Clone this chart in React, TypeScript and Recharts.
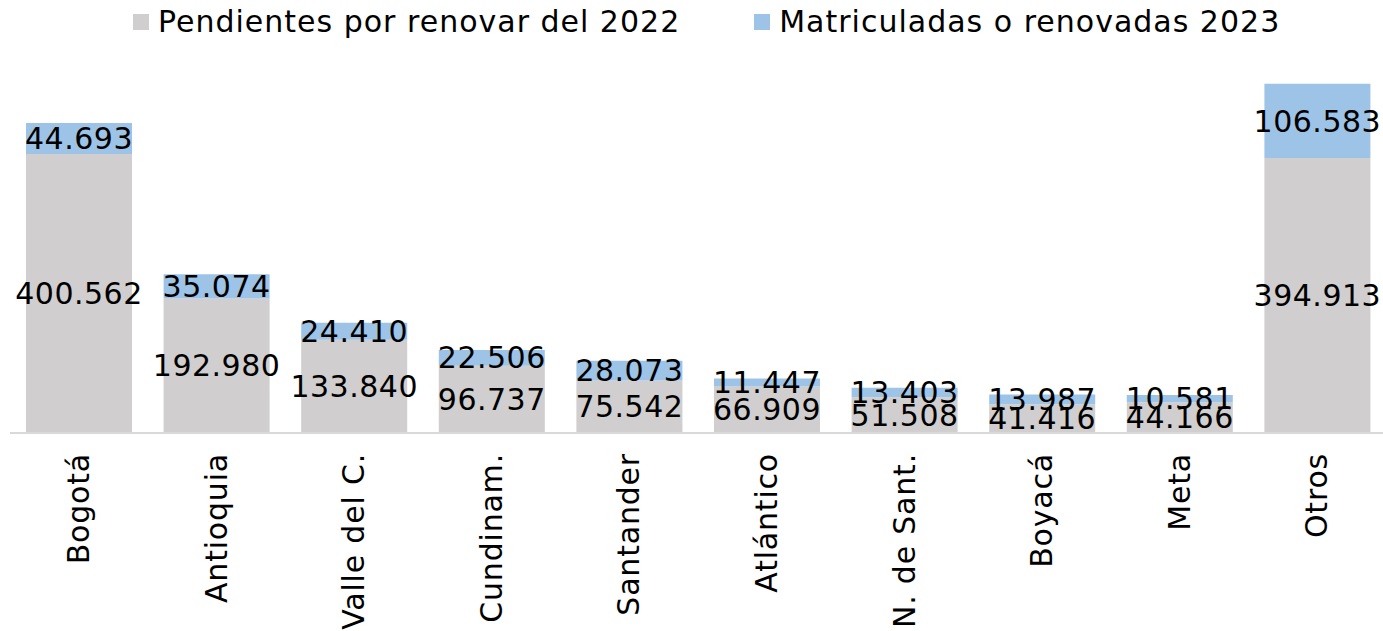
import { BarChart, Bar, XAxis, YAxis, LabelList } from "recharts";

const categories = [
  "Bogotá",
  "Antioquia",
  "Valle del C.",
  "Cundinam.",
  "Santander",
  "Atlántico",
  "N. de Sant.",
  "Boyacá",
  "Meta",
  "Otros",
];
const pendientes = [400562, 192980, 133840, 96737, 75542, 66909, 51508, 41416, 44166, 394913];
const renovadas = [44693, 35074, 24410, 22506, 28073, 11447, 13403, 13987, 10581, 106583];

const GREY = "#d0cece";
const BLUE = "#9dc3e6";
const FONT = "DejaVu Sans";

const data = categories.map((name, i) => ({
  name,
  pendientes: pendientes[i],
  renovadas: renovadas[i],
}));

const fmt = (v: number) => v.toLocaleString("de-DE");

const legendItems = [
  { label: "Pendientes por renovar del 2022", color: GREY },
  { label: "Matriculadas o renovadas 2023", color: BLUE },
];

function LegendBox() {
  return (
    <div
      style={{
        position: "absolute",
        top: 4,
        left: 133,
        display: "flex",
        gap: 74,
        fontFamily: FONT,
        fontSize: 30,
        letterSpacing: 1,
        color: "#000",
        whiteSpace: "nowrap",
      }}
    >
      {legendItems.map((it) => (
        <div key={it.label} style={{ display: "flex", alignItems: "center" }}>
          <span style={{ width: 16, height: 16, background: it.color, marginRight: 9, display: "inline-block" }} />
          {it.label}
        </div>
      ))}
    </div>
  );
}

export default function App() {
  return (
    <div style={{ position: "absolute", left: 0, top: 0, width: 1383, height: 631, background: "#fff" }}>
      <BarChart
        width={1383}
        height={631}
        data={data}
        barSize={106}
        margin={{ top: 50, right: -3, left: 10, bottom: 0 }}
      >
        <YAxis hide domain={[0, 550000]} />
        <XAxis
          dataKey="name"
          interval={0}
          height={198}
          tickLine={false}
          axisLine={{ stroke: "#d9d9d9", strokeWidth: 2 }}
          angle={-90}
          textAnchor="end"
          dy={12}
          dx={-11}
          tick={{ fill: "#000", fontSize: 30, fontFamily: FONT, letterSpacing: 0.8 }}
        />
        <Bar dataKey="pendientes" stackId="a" fill={GREY} isAnimationActive={false}>
          <LabelList dataKey="pendientes" position="center" formatter={fmt} fill="#000" fontSize={30} fontFamily={FONT} letterSpacing={0.5} />
        </Bar>
        <Bar dataKey="renovadas" stackId="a" fill={BLUE} isAnimationActive={false}>
          <LabelList dataKey="renovadas" position="center" formatter={fmt} fill="#000" fontSize={30} fontFamily={FONT} letterSpacing={0.5} />
        </Bar>
      </BarChart>
      <LegendBox />
    </div>
  );
}
